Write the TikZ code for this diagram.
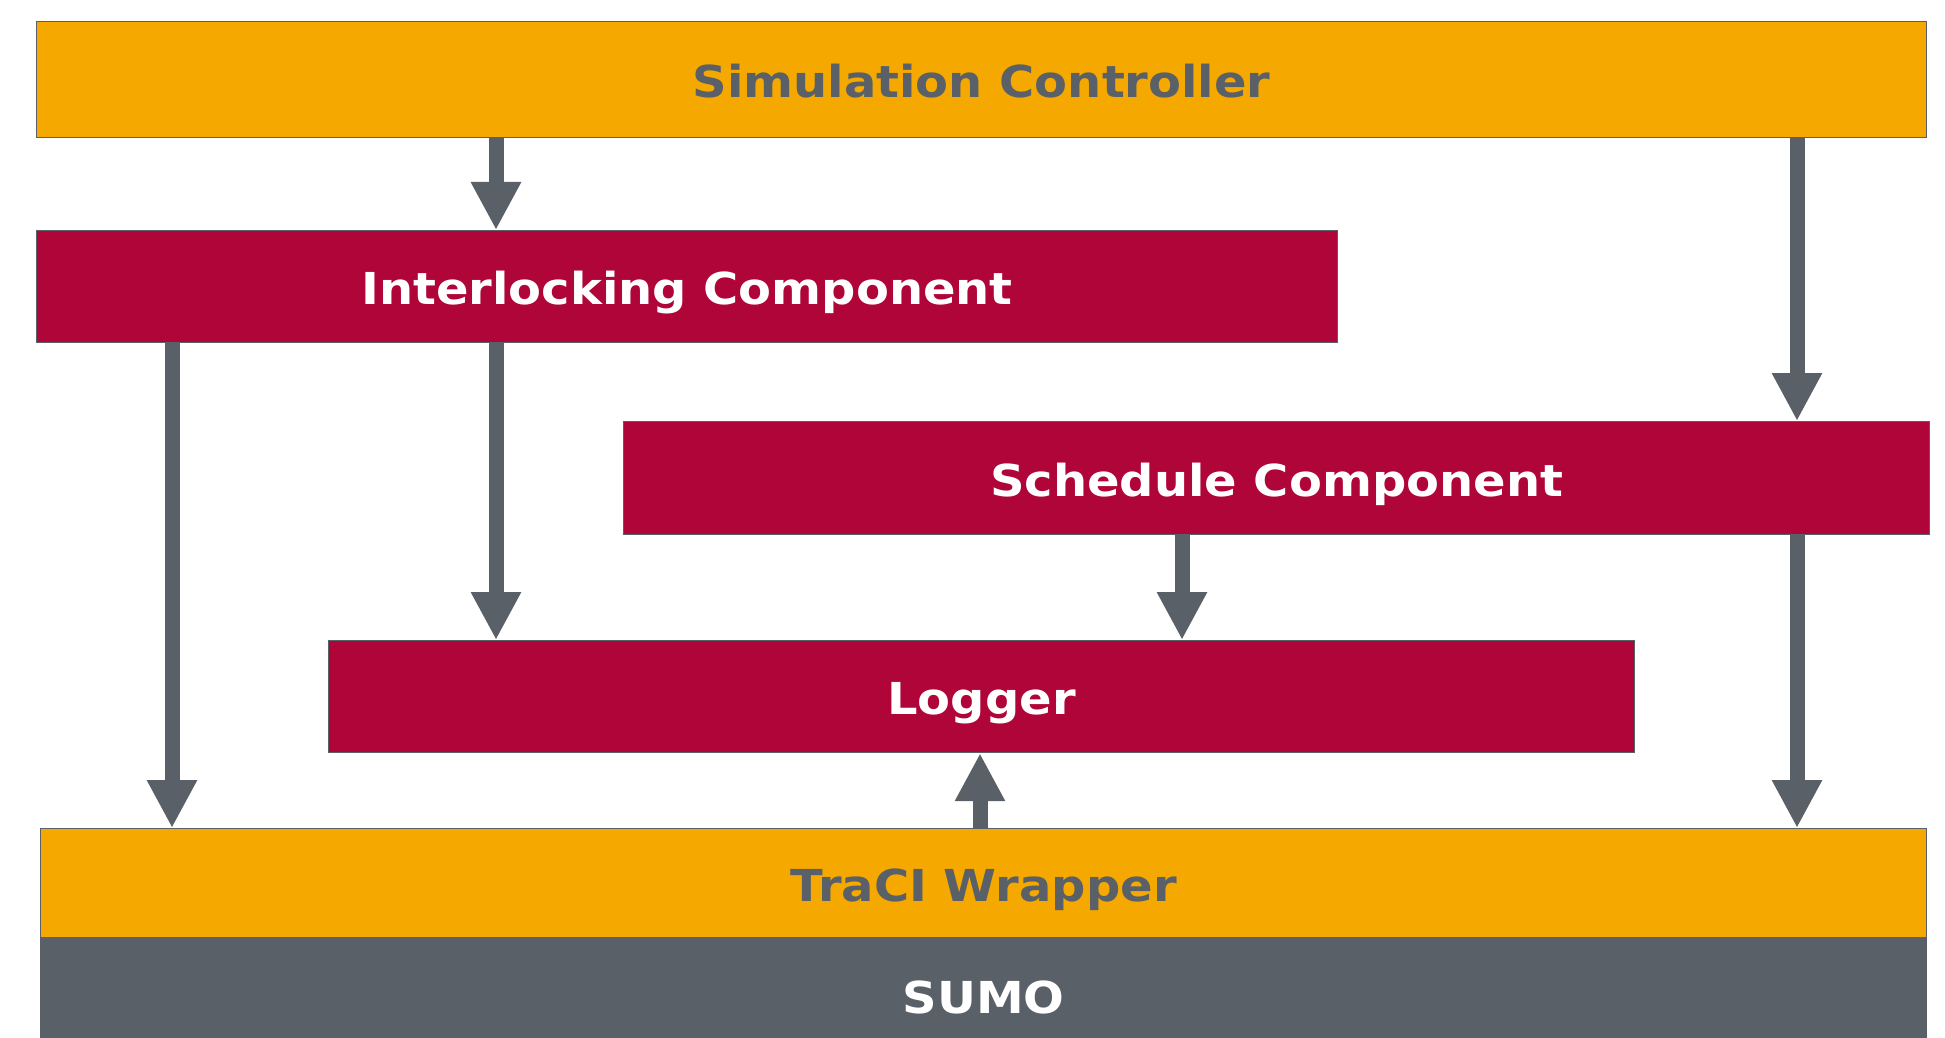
\documentclass[tikz,border=0pt]{standalone}
\usepackage{fontspec}
\setmainfont{DejaVu Sans}[FakeStretch=1.09]
\usetikzlibrary{arrows.meta}
\definecolor{amber}{HTML}{F5A800}
\definecolor{crimson}{HTML}{B00538}
\definecolor{slate}{HTML}{5A6067}

\begin{document}
\begin{tikzpicture}[x=0.5pt,y=-0.5pt,
  layer/.style={draw=slate,line width=0.6pt,anchor=north west,inner sep=0pt,
    text height=17.9pt,text depth=0pt,font=\fontsize{22}{26}\selectfont\bfseries},
  host/.style={layer,fill=amber,text=slate},
  part/.style={layer,fill=crimson,text=white},
  flow/.style={draw=slate,line width=7.5pt,-{Triangle[width=23.5pt,length=24pt]}}]
  \useasboundingbox (0,0) rectangle (1945,1038);
  \node[host,minimum width=945pt,minimum height=58pt] (sim) at (36,21) {Simulation Controller};
  \node[part,minimum width=650.5pt,minimum height=56pt] (ilc) at (36,230) {Interlocking Component};
  \node[part,minimum width=653pt,minimum height=56.5pt] (sched) at (623,421) {Schedule Component};
  \node[part,minimum width=653pt,minimum height=56pt] (logger) at (328,640) {Logger};
  \node[layer,fill=slate,text=white,minimum width=943pt,minimum height=58pt] (sumo) at (40,937) {SUMO};
  \node[host,minimum width=943pt,minimum height=54.5pt] (traci) at (40,828) {TraCI Wrapper};
  \foreach \n/\x in {A/172,B/496,C/980,D/1182,E/1797}
    \coordinate (col\n) at (\x,0);
  \draw[flow] (sim.south -| colB) -- (ilc.north -| colB);
  \draw[flow] (sim.south -| colE) -- (sched.north -| colE);
  \draw[flow] (ilc.south -| colA) -- (traci.north -| colA);
  \draw[flow] (ilc.south -| colB) -- (logger.north -| colB);
  \draw[flow] (sched.south -| colD) -- (logger.north -| colD);
  \draw[flow] (sched.south -| colE) -- (traci.north -| colE);
  \draw[flow] (traci.north -| colC) -- (logger.south -| colC);
\end{tikzpicture}
\end{document}
